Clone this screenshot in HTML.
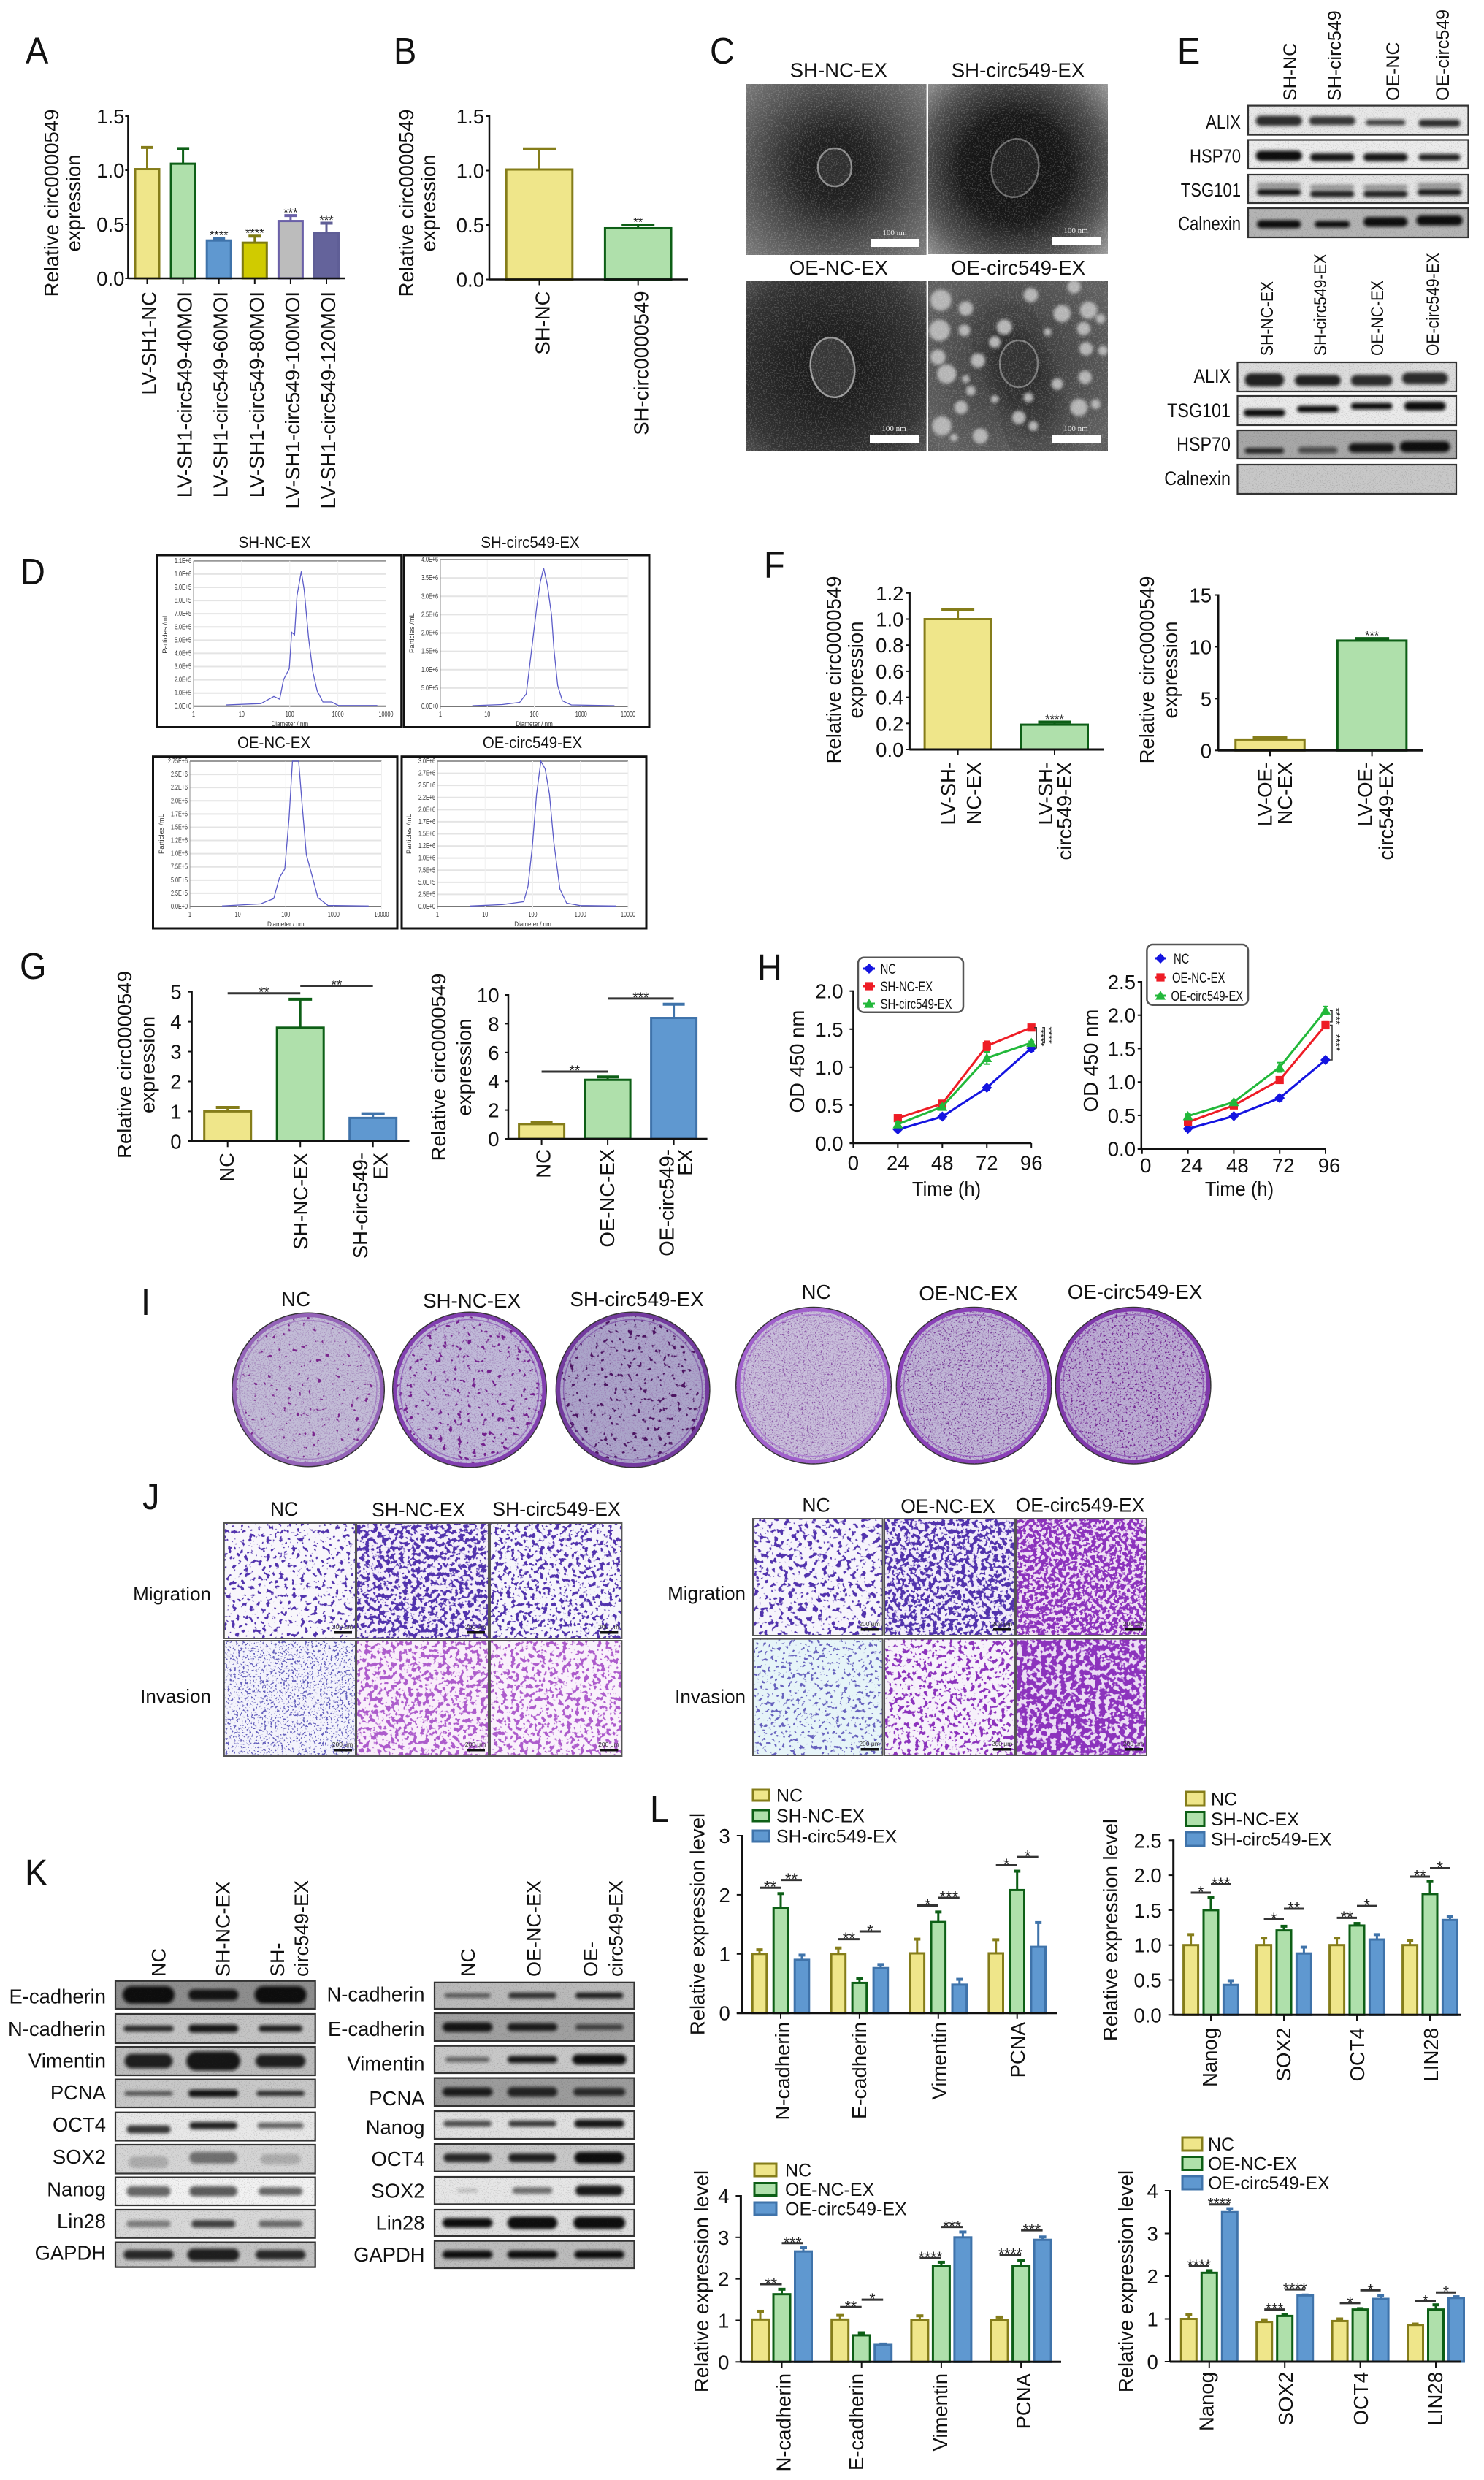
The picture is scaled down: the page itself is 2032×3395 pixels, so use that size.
<!DOCTYPE html>
<html lang="en">
<head>
<meta charset="utf-8">
<title>Exosomal circ0000549 multi-panel figure</title>
<style>
html,body{margin:0;padding:0;background:#fff;}
svg{display:block;font-family:"Liberation Sans",sans-serif;}
</style>
</head>
<body>
<svg id="figure" xmlns="http://www.w3.org/2000/svg" width="2032" height="3395" viewBox="0 0 2032 3395">
<defs id="defs"><filter id="blur" x="-20%" y="-60%" width="140%" height="220%"><feGaussianBlur stdDeviation="2"/></filter></defs>
<rect width="2032" height="3395" fill="#fff"/>
</svg>
<script>
/* ---------- chart data ---------- */
const aCategories=['LV-SH1-NC','LV-SH1-circ549-40MOI','LV-SH1-circ549-60MOI','LV-SH1-circ549-80MOI','LV-SH1-circ549-100MOI','LV-SH1-circ549-120MOI'];
const aValues=[1.01,1.06,0.35,0.33,0.53,0.42];
const aErrorTops=[1.21,1.20,0.37,0.39,0.58,0.51];
const aStars=['','','****','****','***','***'];
const aTicks=[0,0.5,1,1.5];

const bCategories=['SH-NC','SH-circ0000549'];
const bValues=[1.01,0.47];
const bErrorTops=[1.20,0.50];
const bStars=['','**'];
const bTicks=[0,0.5,1,1.5];

const f1Categories=[['LV-SH-','NC-EX'],['LV-SH-','circ549-EX']];
const f1Values=[1.0,0.19];
const f1ErrorTops=[1.07,0.21];
const f1Stars=['','****'];
const f1Ticks=[0,0.2,0.4,0.6,0.8,1.0,1.2];

const f2Categories=[['LV-OE-','NC-EX'],['LV-OE-','circ549-EX']];
const f2Values=[1.05,10.6];
const f2ErrorTops=[1.25,10.8];
const f2Stars=['','***'];
const f2Ticks=[0,5,10,15];

const g1Categories=[['NC'],['SH-NC-EX'],['SH-circ549-','EX']];
const g1Values=[1.0,3.8,0.78];
const g1ErrorTops=[1.13,4.75,0.92];
const g1Ticks=[0,1,2,3,4,5];
const g1Sig=[[0,0,1,0,4.95,'**'],[1,0,2,0,5.2,'**']];

const g2Categories=[['NC'],['OE-NC-EX'],['OE-circ549-','EX']];
const g2Values=[1.02,4.1,8.4];
const g2ErrorTops=[1.13,4.3,9.35];
const g2Ticks=[0,2,4,6,8,10];
const g2Sig=[[0,0,1,0,4.67,'**'],[1,0,2,0,9.75,'***']];

const hTimes=[24,48,72,96];
const hXTicks=[0,24,48,72,96];
const h1NC=[0.18,0.35,0.73,1.25];
const h1NCErr=[0.03,0.03,0.03,0.04];
const h1SH=[0.33,0.52,1.28,1.52];
const h1SHErr=[0.04,0.04,0.06,0.03];
const h1Circ=[0.25,0.48,1.12,1.32];
const h1CircErr=[0.03,0.02,0.08,0.02];
const h1Ticks=[0,0.5,1,1.5,2];
const h1Sig=[[1.52,1.25,'****'],[1.52,1.32,'****']];
const h2NC=[0.30,0.49,0.76,1.33];
const h2NCErr=[0.03,0.03,0.04,0.03];
const h2OE=[0.40,0.65,1.03,1.85];
const h2OEErr=[0.04,0.04,0.04,0.05];
const h2Circ=[0.49,0.70,1.22,2.07];
const h2CircErr=[0.03,0.02,0.07,0.06];
const h2Ticks=[0,0.5,1,1.5,2,2.5];
const h2Sig=[[2.07,1.9,'****'],[1.85,1.33,'****']];

const l1Categories=['N-cadherin','E-cadherin','Vimentin','PCNA'];
const l1NC=[1.0,1.0,1.01,1.01];
const l1NCErr=[1.07,1.10,1.25,1.24];
const l1SH=[1.78,0.51,1.54,2.08];
const l1SHErr=[2.02,0.58,1.71,2.40];
const l1Circ=[0.90,0.76,0.48,1.12];
const l1CircErr=[0.98,0.82,0.57,1.53];
const l1Ticks=[0,1,2,3];
const l1Sig=[[0,0,0,1,2.12,'**'],[0,1,0,2,2.25,'**'],[1,0,1,1,1.25,'**'],[1,1,1,2,1.38,'*'],[2,0,2,1,1.82,'*'],[2,1,2,2,1.95,'***'],[3,0,3,1,2.5,'*'],[3,1,3,2,2.64,'*']];

const l2Categories=['Nanog','SOX2','OCT4','LIN28'];
const l2NC=[1.0,1.0,1.0,1.0];
const l2NCErr=[1.15,1.10,1.10,1.07];
const l2SH=[1.50,1.21,1.28,1.73];
const l2SHErr=[1.68,1.27,1.31,1.91];
const l2Circ=[0.43,0.88,1.08,1.36];
const l2CircErr=[0.49,0.97,1.15,1.41];
const l2Ticks=[0,0.5,1,1.5,2,2.5];
const l2Sig=[[0,0,0,1,1.75,'*'],[0,1,0,2,1.87,'***'],[1,0,1,1,1.37,'*'],[1,1,1,2,1.52,'**'],[2,0,2,1,1.39,'**'],[2,1,2,2,1.56,'*'],[3,0,3,1,1.98,'**'],[3,1,3,2,2.1,'*']];

const l3Categories=['N-cadherin','E-cadherin','Vimentin','PCNA'];
const l3NC=[1.02,1.02,1.01,1.0];
const l3NCErr=[1.22,1.12,1.11,1.08];
const l3OE=[1.63,0.64,2.31,2.31];
const l3OEErr=[1.75,0.70,2.40,2.44];
const l3Circ=[2.66,0.41,3.0,2.94];
const l3CircErr=[2.75,0.43,3.13,3.01];
const l3Ticks=[0,1,2,3,4];
const l3Sig=[[0,0,0,1,1.87,'**'],[0,1,0,2,2.86,'***'],[1,0,1,1,1.32,'**'],[1,1,1,2,1.5,'*'],[2,0,2,1,2.5,'****'],[2,1,2,2,3.25,'***'],[3,0,3,1,2.58,'****'],[3,1,3,2,3.17,'***']];

const l4Categories=['Nanog','SOX2','OCT4','LIN28'];
const l4NC=[1.0,0.93,0.95,0.86];
const l4NCErr=[1.10,0.98,1.0,0.88];
const l4OE=[2.08,1.07,1.22,1.22];
const l4OEErr=[2.13,1.11,1.24,1.33];
const l4Circ=[3.5,1.55,1.47,1.49];
const l4CircErr=[3.58,1.56,1.54,1.52];
const l4Ticks=[0,1,2,3,4];
const l4Sig=[[0,0,0,1,2.24,'****'],[0,1,0,2,3.68,'****'],[1,0,1,1,1.22,'***'],[1,1,1,2,1.69,'****'],[2,0,2,1,1.37,'*'],[2,1,2,2,1.67,'*'],[3,0,3,1,1.41,'*'],[3,1,3,2,1.62,'*']];

const d1LogDiameter=[0.68,1.40,1.67,1.79,1.87,1.99,2.04,2.10,2.15,2.24,2.30,2.39,2.48,2.57,2.69,2.87,3.01,3.82];
const d1Particles=[0.01,0.02,0.074,0.053,0.20,0.285,0.56,0.54,0.835,1.02,0.88,0.52,0.26,0.116,0.032,0.032,0.006,0.006];
const d1TickLabels=['0.0E+0','1.0E+5','2.0E+5','3.0E+5','4.0E+5','5.0E+5','6.0E+5','7.0E+5','8.0E+5','9.0E+5','1.0E+6','1.1E+6'];
const d2LogDiameter=[0.68,1.32,1.69,1.83,1.96,2.06,2.13,2.2,2.28,2.37,2.42,2.5,2.6,2.79,3.71];
const d2Particles=[0.02,0.05,0.11,0.34,1.71,2.78,3.39,3.77,3.31,2.48,1.56,0.57,0.15,0.04,0.02];
const d2TickLabels=['0.0E+0','5.0E+5','1.0E+6','1.5E+6','2.0E+6','2.5E+6','3.0E+6','3.5E+6','4.0E+6'];
const d3LogDiameter=[0.67,1.48,1.75,1.87,1.98,2.07,2.14,2.27,2.34,2.43,2.56,2.67,2.88,3.73];
const d3Particles=[0.01,0.05,0.15,0.55,0.71,1.68,2.75,2.75,1.95,0.98,0.55,0.17,0.02,0.01];
const d3TickLabels=['0.0E+0','2.5E+5','5.0E+5','7.5E+5','1.0E+6','1.2E+6','1.5E+6','1.7E+6','2.0E+6','2.2E+6','2.5E+6','2.75E+6'];
const d4LogDiameter=[0.69,1.36,1.81,1.9,1.99,2.08,2.17,2.26,2.35,2.44,2.57,2.71,2.99,3.75];
const d4Particles=[0.01,0.04,0.1,0.42,1.23,2.32,3.0,2.84,2.32,1.34,0.36,0.07,0.02,0.01];
const d4TickLabels=['0.0E+0','2.5E+5','5.0E+5','7.5E+5','1.0E+6','1.2E+6','1.5E+6','1.7E+6','2.0E+6','2.2E+6','2.5E+6','2.7E+6','3.0E+6'];
const dXTicks=[1,10,100,1000,10000];

/* ---------- helpers ---------- */
const NS='http://www.w3.org/2000/svg';
const svg=document.getElementById('figure');
const defs=document.getElementById('defs');
const YEL={f:'#efe68a',s:'#857d1a'},GRN={f:'#afe0ab',s:'#0d5f16'},BLU={f:'#5f98d0',s:'#3f73aa'},
      OLV={f:'#d0cb00',s:'#7d7a10'},GRY={f:'#bcbcbc',s:'#6a60a8'},IND={f:'#64639b',s:'#5f5e96'};

function add(parent,tag,attrs){
  const el=document.createElementNS(NS,tag);
  for(const k in attrs)el.setAttribute(k,attrs[k]);
  parent.appendChild(el);
  return el;
}
function group(parent,name){
  const g=add(parent,'g',{});
  
  
  return g;
}
function txt(parent,name,x,y,str,o){
  o=o||{};
  const t=add(parent,'text',{transform:'translate('+x+' '+y+') rotate('+(o.rot||0)+') scale('+(o.sx||1)+' 1)','text-anchor':o.anchor||'start','font-size':o.size||27.5,fill:o.fill||'#111'});
  if(o.family)t.setAttribute('font-family',o.family);
  t.textContent=str;
  
  
  return t;
}
function line(parent,name,x1,y1,x2,y2,stroke,w){
  const l=add(parent,'line',{x1:x1,y1:y1,x2:x2,y2:y2,stroke:stroke,'stroke-width':w});
  
  
  return l;
}
function box(parent,name,x,y,w,h,fill,extra){
  const r=add(parent,'rect',Object.assign({x:x,y:y,width:w,height:h,fill:fill},extra||{}));
  
  
  return r;
}
function noise(id,fx,fy,seed,oct,col,k,t){
  const f=add(defs,'filter',{id:id,x:0,y:0,width:'100%',height:'100%','color-interpolation-filters':'sRGB'});
  add(f,'feTurbulence',{type:'fractalNoise',baseFrequency:fx+' '+fy,numOctaves:oct,seed:seed});
  add(f,'feColorMatrix',{type:'matrix',values:'0 0 0 0 '+col[0]+' 0 0 0 0 '+col[1]+' 0 0 0 0 '+col[2]+' '+k+' 0 0 0 '+(-k*t)});
}

/* ---------- bar chart ---------- */
function barChart(parent,c){
  const g=group(parent,c.name);
  const yS=v=>c.y0-v/c.yMax*(c.y0-c.yTop);
  const nS=c.series.length;
  const barX=(gi,si)=>c.first+gi*c.step+(si-(nS-1)/2)*(c.off||0);
  const sw=c.barStroke||3;
  c.series.forEach((vals,si)=>{
    vals.forEach((v,gi)=>{
      const col=c.colors[nS===1?gi:si];
      const x=barX(gi,si),top=c.errs[si][gi];
      line(g,'error-bar',x,yS(v),x,yS(top),col.s,sw);
      line(g,'error-cap',x-c.capW/2,yS(top),x+c.capW/2,yS(top),col.s,sw+1);
      const bar=add(g,'rect',{x:x-c.barW/2,y:yS(v),width:c.barW,height:c.y0-yS(v),fill:col.f,stroke:col.s,'stroke-width':sw});
      
      
      if(c.stars&&c.stars[gi])
        txt(g,'significance-stars',x,yS(top)-8+0.57*(c.starSize||16.5),c.stars[gi],{anchor:'middle',size:c.starSize||16.5,fill:'#222'});
    });
  });
  line(g,'y-axis',c.axisX,c.yTop-1,c.axisX,c.y0+1,'#111',c.axisW||2.5);
  line(g,'x-axis',c.axisX-(c.xOver||0),c.y0,c.xEnd,c.y0,'#111',c.axisW||2.5);
  c.ticks.forEach(t=>{
    line(g,'y-tick',c.axisX-(c.tickLen||5),yS(t),c.axisX,yS(t),'#111',2);
    txt(g,'y-tick-label',c.axisX-c.labelGap,yS(t)+10,t.toFixed(c.dec||0),{anchor:'end',size:27.5});
  });
  c.cats.forEach((cat,i)=>{
    const x=c.first+i*c.step;
    line(g,'x-tick',x,c.y0,x,c.y0+8,'#111',2);
    const lines=Array.isArray(cat)?cat:[cat];
    const dx=Array.isArray(c.lblDx)?c.lblDx[i]:[c.lblDx];
    lines.forEach((s,j)=>txt(g,'x-tick-label',x+dx[j],c.lblTop,s,{anchor:'end',rot:-90,size:c.lblSize||27.5}));
  });
  c.title.forEach((s,i)=>txt(g,'y-axis-title',c.titleX[i],c.titleY,s,{anchor:'middle',rot:-90,size:27.5}));
  if(c.sig)c.sig.forEach(s=>{
    const y=yS(s[4]);
    const a=barX(s[0],s[1]),b=barX(s[2],s[3]);
    line(g,'significance-line',a,y,b,y,'#333',3);
    const sz=c.sigSize||22;
    txt(g,'significance-stars',(a+b)/2,y-6+0.57*sz,s[5],{anchor:'middle',size:sz,fill:'#222'});
  });
  if(c.legend){
    const L=c.legend;
    L.names.forEach((s,i)=>{
      const col=c.colors[i];
      const sy=L.y+i*L.dy;
      box(g,'legend-swatch',L.x,sy,L.w,L.h,col.f,{stroke:col.s,'stroke-width':3});
      txt(g,'legend-entry',L.tx,sy+L.h/2+9,s,{size:25});
    });
  }
  return g;
}

/* ---------- line chart ---------- */
function marker(g,type,x,y,col,s){
  let m;
  if(type==='d')m=add(g,'polygon',{points:(x)+','+(y-s)+' '+(x+s)+','+y+' '+x+','+(y+s)+' '+(x-s)+','+y,fill:col});
  else if(type==='s')m=add(g,'rect',{x:x-s*0.8,y:y-s*0.8,width:s*1.6,height:s*1.6,fill:col});
  else m=add(g,'polygon',{points:x+','+(y-s)+' '+(x+s)+','+(y+s*0.8)+' '+(x-s)+','+(y+s*0.8),fill:col});
  
  
}
function lineChart(parent,c){
  const g=group(parent,c.name);
  const xS=h=>c.x0+h/96*(c.x96-c.x0);
  const yS=v=>c.y0-v/c.yMax*(c.y0-c.yTop);
  line(g,'y-axis',c.axisX,c.yTop-1,c.axisX,c.y0+1,'#111',2.5);
  line(g,'x-axis',c.axisX-5,c.y0,c.x96,c.y0,'#111',2.5);
  c.yTicks.forEach(t=>{
    line(g,'y-tick',c.axisX-5,yS(t),c.axisX,yS(t),'#111',2);
    txt(g,'y-tick-label',c.yLabelX,yS(t)+10,t.toFixed(1),{anchor:'end'});
  });
  c.xTicks.forEach(t=>{
    line(g,'x-tick',xS(t),c.y0,xS(t),c.y0+7,'#111',2);
    txt(g,'x-tick-label',xS(t)+(c.xLblDx||0),c.xLblY,String(t),{anchor:'middle'});
  });
  c.series.forEach(s=>{
    const pts=c.times.map((t,i)=>xS(t)+','+yS(s.vals[i])).join(' ');
    const pl=add(g,'polyline',{points:pts,fill:'none',stroke:s.col,'stroke-width':3});
    
    
    c.times.forEach((t,i)=>{
      const x=xS(t);
      line(g,'error-bar',x,yS(s.vals[i]-s.errs[i]),x,yS(s.vals[i]+s.errs[i]),s.col,2);
      line(g,'error-cap',x-4,yS(s.vals[i]+s.errs[i]),x+4,yS(s.vals[i]+s.errs[i]),s.col,2);
      line(g,'error-cap',x-4,yS(s.vals[i]-s.errs[i]),x+4,yS(s.vals[i]-s.errs[i]),s.col,2);
      marker(g,s.mark,x,yS(s.vals[i]),s.col,7);
    });
  });
  c.sig.forEach((s,i)=>{
    const x=c.x96+c.sigDx[i],y1=yS(s[0]),y2=yS(s[1]);
    const b=add(g,'polyline',{points:(x-3)+','+y1+' '+x+','+y1+' '+x+','+y2+' '+(x-3)+','+y2,fill:'none',stroke:'#333','stroke-width':1.5});
    
    
    txt(g,'significance-stars',x+1,(y1+y2)/2,s[2],{anchor:'middle',rot:90,size:15,fill:'#222'});
  });
  txt(g,'x-axis-title',c.timeX,1637,'Time (h)',{anchor:'middle',sx:0.93});
  txt(g,'y-axis-title',c.odX,c.odY,'OD 450 nm',{anchor:'middle',rot:-90});
  const L=c.legend;
  const lb=add(g,'rect',{x:L.x,y:L.y,width:L.w,height:L.h,rx:8,fill:'#fff',stroke:'#555','stroke-width':2.5});
  
  
  c.series.forEach((s,i)=>{
    line(g,'legend-line',L.mx[i]-8,L.ys[i],L.mx[i]+8,L.ys[i],s.col,3);
    marker(g,s.mark,L.mx[i],L.ys[i],s.col,7);
    txt(g,'legend-entry',L.tx[i],L.ys[i]+7,s.label,{size:19,sx:0.78});
  });
}

/* ---------- particle size plot ---------- */
function nta(parent,c){
  const g=group(parent,c.name);
  box(g,'plot-frame',c.fx,c.fy,c.fw,c.fh,'#fff',{stroke:'#111','stroke-width':3});
  const n=c.labels.length-1;
  const dec=(c.x1-c.x0)/4;
  const yS=v=>c.y0-v/c.yMax*(c.y0-c.yTop);
  c.labels.forEach((s,i)=>{
    const y=c.y0-(c.y0-c.yTop)*i/n;
    line(g,'grid-line',c.x0,y,c.x1,y,i===n?'#999':(i===0?'#777':'#e4e4e4'),2);
    txt(g,'y-tick-label',c.x0-3,y+3,s,{anchor:'end',size:10,sx:0.72,fill:'#333'});
  });
  dXTicks.forEach((t,i)=>{
    const x=c.x0+i*dec;
    line(g,'grid-line-vertical',x,c.yTop,x,c.y0+3,i===0?'#888':'#f0f0f0',1);
    txt(g,'x-tick-label',x,c.y0+14,String(t),{anchor:'middle',size:10,sx:0.72,fill:'#333'});
  });
  const pts=c.logd.map((d,i)=>(c.x0+d*dec)+','+yS(c.vals[i])).join(' ');
  const pl=add(g,'polyline',{points:pts,fill:'none',stroke:'#5c5cc8','stroke-width':1.3});
  
  
  txt(g,'x-axis-title',(c.x0+c.x1)/2,c.y0+27,'Diameter / nm',{anchor:'middle',size:9.5,sx:0.85,fill:'#333'});
  txt(g,'y-axis-title',c.x0-36,(c.y0+c.yTop)/2,'Particles /mL',{anchor:'middle',rot:-90,size:9.5,fill:'#333'});
  txt(g,'plot-title',c.tx,c.ty,c.title,{anchor:'middle',size:22,sx:0.93});
}

/* ---------- TEM micrographs ---------- */
noise('grain',0.55,0.55,3,2,[1,1,1],7,0.52);
noise('grainDark',0.3,0.3,8,2,[0,0,0],6,0.52);
noise('blotGrain',0.7,0.7,5,2,[0.2,0.2,0.2],5,0.55);
(function(){const f=add(defs,'filter',{id:'blurBig',x:'-50%',y:'-50%',width:'200%',height:'200%'});add(f,'feGaussianBlur',{stdDeviation:28});})();
function tem(parent,c){
  const g=group(parent,c.name);
  const id=c.name+'-grad';
  const gr=add(defs,'radialGradient',{id:id,gradientUnits:'userSpaceOnUse',cx:c.cx,cy:c.cy,r:c.gr});
  c.stops.forEach(s=>add(gr,'stop',{offset:s[0],'stop-color':s[1]}));
  box(g,'micrograph',c.x,c.y,c.w,c.h,'url(#'+id+')');
  const cp=add(defs,'clipPath',{id:c.name+'-clip'});
  add(cp,'rect',{x:c.x,y:c.y,width:c.w,height:c.h});
  const inner=group(g,'micrograph-content');
  inner.setAttribute('clip-path','url(#'+c.name+'-clip)');
  if(c.dark){
    const d=add(inner,'ellipse',{cx:c.dark[0],cy:c.dark[1],rx:c.dark[2],ry:c.dark[3],fill:'#1e1e1e',filter:'url(#blurBig)',opacity:0.85,transform:'rotate('+(c.dark[4]||0)+' '+c.dark[0]+' '+c.dark[1]+')'});
    
    
  }
  if(c.dots)c.dots.forEach(p=>{
    const e=add(inner,'circle',{cx:p[0]/1.519+1000,cy:p[1]/2.178,r:p[2]/1.519,fill:'#b4b4b4',filter:'url(#blur)'});
    
    
  });
  const ex=add(inner,'ellipse',{cx:c.cx,cy:c.cy,rx:c.rx,ry:c.ry,fill:c.pf,stroke:c.ps||'#8a8a8a','stroke-width':2.5,transform:'rotate('+(c.rot||0)+' '+c.cx+' '+c.cy+')'});
  
  
  box(inner,'micrograph-grain',c.x,c.y,c.w,c.h,'#fff',{filter:'url(#grain)',opacity:0.16});
  box(g,'scale-bar',c.sb[0],c.sb[1],67,11,'#fff');
  txt(g,'scale-bar-label',c.sb[0]+33,c.sb[1]-5,'100 nm',{anchor:'middle',size:11,fill:'#eee',family:'"Liberation Serif",serif'});
  txt(g,'micrograph-title',c.x+c.w/2+(c.tdx||0),c.ty,c.title,{anchor:'middle',size:27.6});
}

/* ---------- blots ---------- */
function blot(parent,o,x0,x1,lanes,labelX,size,sx){
  const g=group(parent,'blot-'+o.label.toLowerCase());
  box(g,'blot-image',x0,o.y0,x1-x0,o.y1-o.y0,o.bg,{stroke:'#333','stroke-width':2.2});
  const h=o.y1-o.y0,w=x1-x0;
  (o.bands||[]).forEach((b,i)=>{
    const cx=x0+lanes[i]*w,cy=o.y0+(b[3]===undefined?0.5:b[3])*h,bw=b[0]*w;
    const r=add(g,'rect',{x:cx-bw/2,y:cy-b[1]/2,width:bw,height:b[1],rx:b[1]/2,fill:'#0a0a0a',opacity:b[2],filter:'url(#blur)'});
    
    
    if(o.ghost){
      const r2=add(g,'rect',{x:cx-bw/2,y:cy-h*0.33,width:bw,height:7,rx:3,fill:'#222',opacity:o.ghost,filter:'url(#blur)'});
      
      
    }
  });
  box(g,'blot-grain',x0+1,o.y0+1,w-2,h-2,'#333',{filter:'url(#blotGrain)',opacity:0.18});
  txt(g,'blot-label',labelX,o.ly+10,o.label,{anchor:'end',size:size||27,sx:sx||1});
}

/* ---------- panel letters ---------- */
const letters=[['A',35,87],['B',539,87],['C',972,87],['D',28,800],['E',1612,87],['F',1046,791],['G',27,1340],['H',1037,1342],['I',193,1800],['J',195,2066],['K',34,2581],['L',890,2494]];
const letterGroup=group(svg,'panel-letters');
letters.forEach(l=>txt(letterGroup,'panel-letter-'+l[0].toLowerCase(),l[1],l[2],l[0],{size:51,sx:0.92}));

/* ---------- A, B ---------- */
barChart(svg,{name:'chart-a',cats:aCategories,series:[aValues],errs:[aErrorTops],stars:aStars,colors:[YEL,GRN,BLU,OLV,GRY,IND],
  axisX:175.4,y0:381,yTop:159,yMax:1.5,ticks:aTicks,dec:1,first:201.5,step:49.1,barW:33,capW:17,xEnd:472,labelGap:5,tickLen:4,
  lblTop:399,lblDx:12,title:['Relative circ0000549','expression'],titleX:[80,110],titleY:278});
barChart(svg,{name:'chart-b',cats:bCategories,series:[bValues],errs:[bErrorTops],stars:bStars,colors:[YEL,GRN],
  axisX:670,y0:382.5,yTop:159,yMax:1.5,ticks:bTicks,dec:1,first:738.5,step:135.2,barW:90.6,capW:45,xEnd:942,labelGap:7,
  lblTop:398.5,lblDx:14,title:['Relative circ0000549','expression'],titleX:[566,596],titleY:278});

/* ---------- C ---------- */
const panelC=group(svg,'panel-c-micrographs');
const vesicles=[[438,895,22],[490,920,15],[625,880,15],[690,935,18],[745,925,18],[715,855,14],[770,950,10],[435,985,22],[487,985,12],[570,975,16],[735,980,14],[550,1020,12],[660,990,8],[432,1065,16],[515,1075,15],[740,1040,14],[775,1045,10],[450,1115,20],[680,1145,12],[738,1125,14],[490,1130,8],[500,1165,10],[620,1185,10],[725,1215,18],[760,1205,10],[480,1215,14],[600,1245,14],[440,1270,20],[520,1300,16],[630,1270,10],[465,1305,8],[550,1190,8]];
tem(panelC,{name:'tem-sh-nc-ex',title:'SH-NC-EX',x:1022,y:115,w:246.6,h:234,ty:105.6,tdx:3,cx:1143,cy:229,rx:23,ry:26,pf:'#2f2f2f',gr:175,stops:[[0,'#161616'],[0.3,'#242424'],[0.62,'#505050'],[1,'#808080']],sb:[1192,327]});
tem(panelC,{name:'tem-sh-circ549-ex',title:'SH-circ549-EX',x:1271,y:115,w:246,h:233,ty:105.6,cx:1390,cy:230,rx:32,ry:40,rot:10,pf:'#222222',ps:'#6a6a6a',gr:175,stops:[[0,'#101010'],[0.42,'#181818'],[0.72,'#505050'],[1,'#a0a0a0']],sb:[1440,324]});
tem(panelC,{name:'tem-oe-nc-ex',title:'OE-NC-EX',x:1022,y:385,w:246.6,h:232.5,ty:376,tdx:3,cx:1140,cy:503,rx:30,ry:41,rot:-8,pf:'#363636',ps:'#9a9a9a',gr:185,stops:[[0,'#161616'],[0.4,'#232323'],[0.7,'#323232'],[1,'#5c5c5c']],sb:[1191,595]});
tem(panelC,{name:'tem-oe-circ549-ex',title:'OE-circ549-EX',x:1271,y:385,w:246,h:232.5,ty:376,cx:1395,cy:498,rx:26,ry:32,pf:'#333333',ps:'#7a7a7a',gr:190,stops:[[0,'#303030'],[0.4,'#4a4a4a'],[0.8,'#606060'],[1,'#505050']],dark:[1400,520,24,95,-20],dots:vesicles,sb:[1440,595]});

/* ---------- E ---------- */
const panelE=group(svg,'panel-e-blots');
const eTopHeaders=[['SH-NC',1775],['SH-circ549',1836],['OE-NC',1916],['OE-circ549',1984]];
eTopHeaders.forEach(h=>txt(panelE,'lane-label',h[1],138,h[0],{rot:-90,size:25}));
const eTopLanes=[0.14,0.382,0.624,0.869];
const eTopBlots=[
 {label:'ALIX',y0:144.6,y1:184.6,ly:166,bg:'#e8e8e8',bands:[[0.21,14,0.85,0.52],[0.21,12,0.8,0.52],[0.18,8,0.75,0.58],[0.19,10,0.85,0.6]]},
 {label:'HSP70',y0:191.5,y1:231,ly:212.6,bg:'#ececec',bands:[[0.21,14,1,0.55],[0.2,11,0.95,0.6],[0.2,11,0.95,0.6],[0.19,9,0.9,0.6]]},
 {label:'TSG101',y0:239,y1:278,ly:259,bg:'#e4e4e4',ghost:0.4,bands:[[0.2,9,0.95,0.62],[0.2,9,0.9,0.68],[0.2,9,0.9,0.68],[0.2,9,0.92,0.62]]},
 {label:'Calnexin',y0:285,y1:325,ly:305,bg:'#b4b4b4',bands:[[0.2,11,1,0.55],[0.16,9,1,0.55],[0.2,13,1,0.47],[0.21,14,1,0.42]]}];
eTopBlots.forEach(b=>blot(panelE,b,1709,2010.5,eTopLanes,1699,26,0.85));
const eLowHeaders=[['SH-NC-EX',1743],['SH-circ549-EX',1816],['OE-NC-EX',1894],['OE-circ549-EX',1970]];
eLowHeaders.forEach(h=>txt(panelE,'lane-label',h[1],487,h[0],{rot:-90,size:24,sx:0.88}));
const eLowLanes=[0.123,0.367,0.613,0.857];
const eLowBlots=[
 {label:'ALIX',y0:496,y1:536,ly:514,bg:'#dcdcdc',bands:[[0.18,18,0.9,0.6],[0.21,15,0.9,0.62],[0.19,15,0.85,0.62],[0.21,16,0.85,0.55]]},
 {label:'TSG101',y0:542,y1:582,ly:561,bg:'#eaeaea',bands:[[0.19,10,1,0.58],[0.19,9,1,0.45],[0.19,9,1,0.35],[0.19,12,1,0.35]]},
 {label:'HSP70',y0:589,y1:628,ly:607,bg:'#a8a8a8',bands:[[0.18,8,0.85,0.72],[0.18,9,0.6,0.7],[0.21,13,0.95,0.62],[0.23,15,1,0.58]]},
 {label:'Calnexin',y0:636,y1:676,ly:654,bg:'#c8c8c8',bands:[]}];
eLowBlots.forEach(b=>blot(panelE,b,1694.5,1994,eLowLanes,1685,26.5,0.88));

/* ---------- D ---------- */
const panelD=group(svg,'panel-d-particle-size');
nta(panelD,{name:'plot-sh-nc-ex',title:'SH-NC-EX',tx:376,ty:750,fx:215.4,fy:760,fw:334.3,fh:235.5,x0:265,x1:528.5,y0:966.8,yTop:767.8,yMax:1.1,logd:d1LogDiameter,vals:d1Particles,labels:d1TickLabels});
nta(panelD,{name:'plot-sh-circ549-ex',title:'SH-circ549-EX',tx:726,ty:750,fx:553,fy:760,fw:336,fh:235.5,x0:603,x1:860,y0:967,yTop:766,yMax:4,logd:d2LogDiameter,vals:d2Particles,labels:d2TickLabels});
nta(panelD,{name:'plot-oe-nc-ex',title:'OE-NC-EX',tx:375,ty:1024,fx:209.5,fy:1035.7,fw:334.5,fh:235.3,x0:260,x1:522.5,y0:1241,yTop:1042,yMax:2.75,logd:d3LogDiameter,vals:d3Particles,labels:d3TickLabels});
nta(panelD,{name:'plot-oe-circ549-ex',title:'OE-circ549-EX',tx:729,ty:1024,fx:550,fy:1035.7,fw:335,fh:235.3,x0:599,x1:860,y0:1241,yTop:1042,yMax:3,logd:d4LogDiameter,vals:d4Particles,labels:d4TickLabels});

/* ---------- F, G ---------- */
barChart(svg,{name:'chart-f-sh',cats:f1Categories,series:[f1Values],errs:[f1ErrorTops],stars:f1Stars,colors:[YEL,GRN],
  axisX:1245.4,y0:1026,yTop:811.8,yMax:1.2,ticks:f1Ticks,dec:1,first:1311.6,step:132.4,barW:91,capW:45,xEnd:1511,labelGap:8,axisW:3,
  lblTop:1043,lblDx:[[-3.6,31.4],[-3,23]],title:['Relative circ0000549','expression'],titleX:[1151,1181],titleY:917});
barChart(svg,{name:'chart-f-oe',cats:f2Categories,series:[f2Values],errs:[f2ErrorTops],stars:f2Stars,colors:[YEL,GRN],
  axisX:1668,y0:1027.3,yTop:814.5,yMax:15,ticks:f2Ticks,dec:0,first:1739,step:139.6,barW:94.5,capW:47,xEnd:1949,labelGap:9,axisW:3,
  lblTop:1043,lblDx:[[2.5,30],[0,29]],title:['Relative circ0000549','expression'],titleX:[1580,1612],titleY:917});
barChart(svg,{name:'chart-g-sh',cats:g1Categories,series:[g1Values],errs:[g1ErrorTops],colors:[YEL,GRN,BLU],
  axisX:262.6,y0:1562.3,yTop:1357.7,yMax:5,ticks:g1Ticks,dec:0,first:311.7,step:99.5,barW:64,capW:32,xEnd:560.5,labelGap:14,xOver:5,
  lblTop:1578,lblDx:[[8.5],[10],[-7.7,20]],title:['Relative circ0000549','expression'],titleX:[180,211.6],titleY:1457.5,sig:g1Sig,sigSize:19});
barChart(svg,{name:'chart-g-oe',cats:g2Categories,series:[g2Values],errs:[g2ErrorTops],colors:[YEL,GRN,BLU],
  axisX:696,y0:1559,yTop:1362,yMax:10,ticks:g2Ticks,dec:0,first:741.6,step:90.5,barW:62,capW:30,xEnd:968.6,labelGap:12.5,
  lblTop:1573,lblDx:[[12],[9],[0,25.3]],title:['Relative circ0000549','expression'],titleX:[610,645],titleY:1461,sig:g2Sig,sigSize:19});

/* ---------- H ---------- */
lineChart(svg,{name:'chart-h-sh',x0:1168.4,x96:1412.2,axisX:1168.4,y0:1565,yTop:1356.7,yMax:2,yTicks:h1Ticks,xTicks:hXTicks,times:hTimes,yLabelX:1154.6,xLblY:1601.7,
  series:[{label:'NC',vals:h1NC,errs:h1NCErr,col:'#1414e0',mark:'d'},{label:'SH-NC-EX',vals:h1SH,errs:h1SHErr,col:'#ee1c25',mark:'s'},{label:'SH-circ549-EX',vals:h1Circ,errs:h1CircErr,col:'#22b83a',mark:'t'}],
  sig:h1Sig,sigDx:[7,18],timeX:1296,odX:1101,odY:1453,
  legend:{x:1175,y:1310.7,w:144,h:75,mx:[1190,1190,1190],ys:[1326,1350,1374],tx:[1205.6,1205.6,1205.6]}});
lineChart(svg,{name:'chart-h-oe',x0:1563.8,x96:1815,axisX:1562.8,y0:1572.7,yTop:1344,yMax:2.5,yTicks:h2Ticks,xTicks:hXTicks,times:hTimes,yLabelX:1555,xLblY:1605,xLblDx:5,
  series:[{label:'NC',vals:h2NC,errs:h2NCErr,col:'#1414e0',mark:'d'},{label:'OE-NC-EX',vals:h2OE,errs:h2OEErr,col:'#ee1c25',mark:'s'},{label:'OE-circ549-EX',vals:h2Circ,errs:h2CircErr,col:'#22b83a',mark:'t'}],
  sig:h2Sig,sigDx:[9,9],timeX:1697,odX:1503,odY:1452,
  legend:{x:1570.4,y:1293,w:138.6,h:82.7,mx:[1589,1589,1589],ys:[1312,1338,1363],tx:[1607,1605,1603.5]}});

/* ---------- I ---------- */
noise('speck',0.55,0.55,91,2,[0.58,0.42,0.68],9,0.53);
noise('colA',0.15,0.15,11,2,[0.48,0.14,0.55],14,0.69);
noise('colB',0.15,0.15,23,2,[0.45,0.12,0.55],14,0.65);
noise('colC',0.15,0.15,37,2,[0.3,0.08,0.38],14,0.65);
noise('colD',0.42,0.42,41,2,[0.55,0.34,0.66],10,0.63);
noise('colE',0.42,0.42,53,2,[0.48,0.24,0.6],10,0.61);
noise('colF',0.36,0.36,67,2,[0.46,0.16,0.58],10,0.6);
const panelI=group(svg,'panel-i-colony-dishes');
const dishes=[
 ['NC',405,1788,422,1902.5,104,'#c2bcd6','colA','#9463b8'],
 ['SH-NC-EX',646,1790,643,1902.5,105,'#c0bad8','colB','#823fb0'],
 ['SH-circ549-EX',872,1788,866.6,1902.5,105,'#aba5c9','colC','#733a9e'],
 ['NC',1117.5,1778,1114,1896.7,106,'#c9bfdb','colD','#a05fcc'],
 ['OE-NC-EX',1326,1780,1333.6,1896.7,106,'#c1b8d7','colE','#8a40b8'],
 ['OE-circ549-EX',1554,1778,1551.6,1896.7,106,'#bcaed4','colF','#8038ac']];
dishes.forEach((d,i)=>{
  const g=group(panelI,'dish-'+(i+1));
  txt(g,'dish-title',d[1],d[2],d[0],{anchor:'middle',size:27.7});
  const cp=add(defs,'clipPath',{id:'dishClip'+i});
  add(cp,'ellipse',{cx:d[3],cy:d[4],rx:d[5],ry:d[5]+1});
  const e=add(g,'ellipse',{cx:d[3],cy:d[4],rx:d[5],ry:d[5]+1,fill:d[6],stroke:'#333','stroke-width':2});
  
  
  const c=group(g,'dish-colonies');
  c.setAttribute('clip-path','url(#dishClip'+i+')');
  box(c,'agar-speckle',d[3]-d[5],d[4]-d[5]-1,d[5]*2,d[5]*2+2,'#000',{filter:'url(#speck)',opacity:0.45});
  box(c,'colonies',d[3]-d[5],d[4]-d[5]-1,d[5]*2,d[5]*2+2,'#000',{filter:'url(#'+d[7]+')'});
  const rim=add(g,'ellipse',{cx:d[3],cy:d[4],rx:d[5]-3,ry:d[5]-2,fill:'none',stroke:d[8],'stroke-width':5});
  
  
  const rim2=add(g,'ellipse',{cx:d[3],cy:d[4],rx:d[5]-10,ry:d[5]-9,fill:'none',stroke:d[8],'stroke-width':1.5,opacity:0.6});
  
  
});

/* ---------- J ---------- */
const panelJ=group(svg,'panel-j-transwell');
const wellBlue=[0.32,0.2,0.68],wellPink=[0.68,0.36,0.8],wellMag=[0.55,0.2,0.74],wellFine=[0.4,0.38,0.74];
const wells=[
 ['jw1',306.8,487,2085,2243,'#f8f6fb',wellBlue,0.17,0.59,1],
 ['jw2',488,669,2085,2243,'#f4eef9',wellBlue,0.17,0.5,2],
 ['jw3',671,851.4,2085,2243,'#f6f5fb',wellBlue,0.18,0.55,3],
 ['jw4',306.8,487,2246,2404,'#f3f3fb',wellFine,0.34,0.58,4],
 ['jw5',488,669,2246,2404,'#f9eefa',wellPink,0.17,0.52,5],
 ['jw6',671,851.4,2246,2404,'#f9f1fb',wellPink,0.17,0.54,6],
 ['jw7',1031,1208.6,2079,2239,'#f6f4fb',wellBlue,0.15,0.56,7],
 ['jw8',1211,1390,2079,2239,'#f1ecf9',wellBlue,0.18,0.49,8],
 ['jw9',1391.6,1570,2079,2239,'#efdff4',wellMag,0.2,0.45,9],
 ['jw10',1031,1208.6,2243.6,2403,'#e6f4f8',wellFine,0.2,0.6,10],
 ['jw11',1211,1390,2243.6,2403,'#f6f1fa',wellMag,0.17,0.55,11],
 ['jw12',1391.6,1570,2243.6,2403,'#ebdcf4',wellMag,0.15,0.44,12]];
wells.forEach(w=>{
  noise(w[0],w[7],w[7],w[9]*7+1,2,w[6],14,w[8]);
  const g=group(panelJ,'transwell-field-'+w[9]);
  box(g,'field-background',w[1],w[3],w[2]-w[1],w[4]-w[3],w[5]);
  box(g,'stained-cells',w[1],w[3],w[2]-w[1],w[4]-w[3],'#000',{filter:'url(#'+w[0]+')'});
  const fr=add(g,'rect',{x:w[1],y:w[3],width:w[2]-w[1],height:w[4]-w[3],fill:'none',stroke:'#555','stroke-width':2});
  
  
  box(g,'scale-bar',w[2]-30,w[4]-10,25,3.5,'#111');
  txt(g,'scale-bar-label',w[2]-18,w[4]-13,'200 μm',{anchor:'middle',size:8.5,fill:'#333'});
});
const wellTitles=[['NC',389,2075],['SH-NC-EX',573,2076],['SH-circ549-EX',762,2075],['NC',1117.5,2069.5],['OE-NC-EX',1298,2071],['OE-circ549-EX',1479,2069.5]];
wellTitles.forEach(t=>txt(panelJ,'transwell-title',t[1],t[2],t[0],{anchor:'middle',size:26.5}));
const wellRows=[['Migration',289,2182],['Invasion',289,2322],['Migration',1021,2181],['Invasion',1021,2322.6]];
wellRows.forEach(t=>txt(panelJ,'transwell-row-label',t[1],t[2]+9,t[0],{anchor:'end',size:26}));

/* ---------- K ---------- */
const panelK=group(svg,'panel-k-blots');
const kHeaders=[['NC',226.7],['SH-NC-EX',314.6],['SH-',389],['circ549-EX',422],['NC',650],['OE-NC-EX',740.5],['OE-',818],['circ549-EX',852.5]];
kHeaders.forEach(h=>txt(panelK,'lane-label',h[1],2706,h[0],{rot:-90,size:27}));
const kLeftLanes=[0.166,0.49,0.826];
const kLeftBlots=[
 {label:'E-cadherin',y0:2711.8,y1:2750,ly:2732.7,bg:'#8e8e8e',bands:[[0.26,24,1],[0.25,15,0.95],[0.26,24,1]]},
 {label:'N-cadherin',y0:2757,y1:2797,ly:2777,bg:'#c4c4c4',bands:[[0.25,8,0.85],[0.25,11,0.95],[0.22,9,0.9]]},
 {label:'Vimentin',y0:2802,y1:2841,ly:2820.5,bg:'#bdbdbd',bands:[[0.24,20,0.9],[0.27,26,0.95],[0.25,18,0.9]]},
 {label:'PCNA',y0:2846.6,y1:2885,ly:2864,bg:'#c8c8c8',bands:[[0.24,6,0.65],[0.25,10,0.97],[0.24,7,0.85]]},
 {label:'OCT4',y0:2891.7,y1:2930.5,ly:2908,bg:'#e8e8e8',bands:[[0.22,11,0.8,0.6],[0.24,10,0.9,0.47],[0.23,8,0.6,0.47]]},
 {label:'SOX2',y0:2936,y1:2975.5,ly:2952,bg:'#d5d5d5',bands:[[0.2,16,0.2,0.6],[0.24,16,0.5,0.45],[0.2,14,0.2,0.5]]},
 {label:'Nanog',y0:2980.6,y1:3019,ly:2996.5,bg:'#f2f2f2',bands:[[0.22,14,0.6],[0.24,14,0.65],[0.22,11,0.6]]},
 {label:'Lin28',y0:3025,y1:3063.7,ly:3040,bg:'#d8d8d8',bands:[[0.22,9,0.45],[0.22,10,0.75],[0.22,9,0.55]]},
 {label:'GAPDH',y0:3069.6,y1:3103.6,ly:3083.5,bg:'#c4c4c4',bands:[[0.25,13,0.85],[0.26,17,0.9],[0.25,13,0.85]]}];
kLeftBlots.forEach(b=>blot(panelK,b,158,431.7,kLeftLanes,145,27.4));
const kRightLanes=[0.165,0.49,0.825];
const kRightBlots=[
 {label:'N-cadherin',y0:2713.8,y1:2750,ly:2729.6,bg:'#bababa',bands:[[0.23,6,0.6],[0.24,8,0.8],[0.24,8,0.9]]},
 {label:'E-cadherin',y0:2756,y1:2794,ly:2777,bg:'#a0a0a0',bands:[[0.25,13,0.95],[0.25,11,0.9],[0.24,8,0.65]]},
 {label:'Vimentin',y0:2800.7,y1:2838,ly:2824.5,bg:'#c8c8c8',bands:[[0.22,7,0.55],[0.25,10,0.95],[0.27,14,1]]},
 {label:'PCNA',y0:2844.6,y1:2883,ly:2872,bg:'#9c9c9c',bands:[[0.25,12,0.9],[0.25,13,0.85],[0.26,11,0.8]]},
 {label:'Nanog',y0:2890,y1:2928,ly:2911.5,bg:'#e0e0e0',bands:[[0.24,8,0.7,0.45],[0.24,8,0.8,0.45],[0.25,11,0.95,0.45]]},
 {label:'OCT4',y0:2935,y1:2972.7,ly:2955,bg:'#c8c8c8',bands:[[0.24,12,0.85],[0.24,12,0.9],[0.25,16,1]]},
 {label:'SOX2',y0:2980,y1:3017.4,ly:2998.5,bg:'#e6e6e6',bands:[[0.1,5,0.2],[0.2,9,0.55],[0.24,14,0.95]]},
 {label:'Lin28',y0:3025,y1:3061,ly:3042.7,bg:'#dedede',bands:[[0.25,13,1],[0.25,17,1],[0.26,17,1]]},
 {label:'GAPDH',y0:3067.7,y1:3105,ly:3086,bg:'#bcbcbc',bands:[[0.25,11,1],[0.25,11,1],[0.25,11,1]]}];
kRightBlots.forEach(b=>blot(panelK,b,595,868.5,kRightLanes,581.5,27.4));

/* ---------- L ---------- */
barChart(svg,{name:'chart-l-sh-emt',cats:l1Categories,series:[l1NC,l1SH,l1Circ],errs:[l1NCErr,l1SHErr,l1CircErr],colors:[YEL,GRN,BLU],
  axisX:1015.8,y0:2755.7,yTop:2513,yMax:3,ticks:l1Ticks,dec:0,first:1069,step:107.9,off:29,barW:19.6,capW:9,xEnd:1447,labelGap:16,tickLen:7,axisW:3,xOver:7,
  lblTop:2768,lblDx:[[12],[9],[10.5],[10.5]],title:['Relative expression level'],titleX:[964.6],titleY:2634,sig:l1Sig,
  legend:{names:['NC','SH-NC-EX','SH-circ549-EX'],x:1031,y:2450,dy:28,w:22,h:15,tx:1063}});
barChart(svg,{name:'chart-l-sh-stem',cats:l2Categories,series:[l2NC,l2SH,l2Circ],errs:[l2NCErr,l2SHErr,l2CircErr],colors:[YEL,GRN,BLU],
  axisX:1606.7,y0:2758.3,yTop:2519.3,yMax:2.5,ticks:l2Ticks,dec:1,first:1658,step:100,off:27.4,barW:20,capW:9,xEnd:2000,labelGap:16,tickLen:7,axisW:3,
  lblTop:2776,lblDx:[[8],[9],[10],[11]],title:['Relative expression level'],titleX:[1530],titleY:2642,sig:l2Sig,
  legend:{names:['NC','SH-NC-EX','SH-circ549-EX'],x:1624,y:2453,dy:27.5,w:25,h:19,tx:1658}});
barChart(svg,{name:'chart-l-oe-emt',cats:l3Categories,series:[l3NC,l3OE,l3Circ],errs:[l3NCErr,l3OEErr,l3CircErr],colors:[YEL,GRN,BLU],
  axisX:1014.4,y0:3233.3,yTop:3006,yMax:4,ticks:l3Ticks,dec:0,first:1070.5,step:109.2,off:29.5,barW:23,capW:10,xEnd:1453,labelGap:16,tickLen:7,axisW:3,
  lblTop:3249,lblDx:[[12],[2.5],[8],[13]],title:['Relative expression level'],titleX:[970],titleY:3123,sig:l3Sig,sigSize:21,
  legend:{names:['NC','OE-NC-EX','OE-circ549-EX'],x:1033,y:2962,dy:26.5,w:30,h:17,tx:1075}});
barChart(svg,{name:'chart-l-oe-stem',cats:l4Categories,series:[l4NC,l4OE,l4Circ],errs:[l4NCErr,l4OEErr,l4CircErr],colors:[YEL,GRN,BLU],
  axisX:1601.8,y0:3233,yTop:2999,yMax:4,ticks:l4Ticks,dec:0,first:1655.8,step:103.4,off:28,barW:21,capW:9,xEnd:2000,labelGap:16,tickLen:7,axisW:3,
  lblTop:3247,lblDx:[[5.6],[11],[10.5],[9]],title:['Relative expression level'],titleX:[1551],titleY:3123,sig:l4Sig,sigSize:21,
  legend:{names:['NC','OE-NC-EX','OE-circ549-EX'],x:1619,y:2926,dy:26.5,w:27,h:18,tx:1654}});
</script>
</body>
</html>
